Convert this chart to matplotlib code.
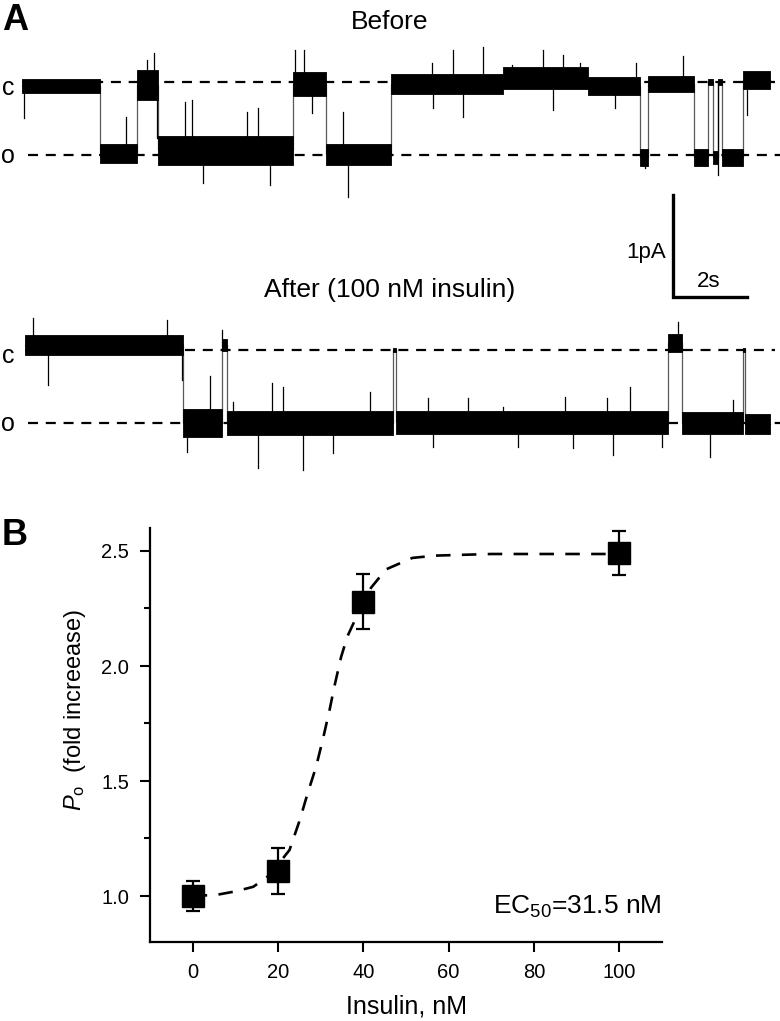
import matplotlib
matplotlib.use("Agg")
import matplotlib.pyplot as plt

plt.rcParams['font.family'] = ['Liberation Sans', 'DejaVu Sans']
plt.rcParams['mathtext.fontset'] = 'custom'
plt.rcParams['mathtext.rm'] = 'Liberation Sans'
plt.rcParams['mathtext.it'] = 'Liberation Sans:italic'

# ---- Panel A: single channel records (time in s, current in pA) ----
# segment edges, mean current and noise half-width of each segment
before_t = [0, 2.11, 3.11, 3.68, 7.32, 8.22, 9.97, 13.0, 15.3, 16.70, 16.92,
            18.16, 18.54, 18.68, 18.81, 18.92, 19.49, 20.22]
before_mean = [-0.04, -0.70, -0.03, -0.67, -0.02, -0.71, -0.02, 0.04, -0.04,
               -0.74, -0.02, -0.74, 0.0, -0.74, 0.0, -0.74, 0.02]
before_noise = [0.07, 0.09, 0.15, 0.14, 0.12, 0.10, 0.10, 0.11, 0.09,
                0.08, 0.08, 0.08, 0.03, 0.06, 0.03, 0.08, 0.09]
# big spikes: (time, peak current)
before_spike_t = [0.05, 2.81, 3.38, 3.57, 3.65, 4.41, 4.59, 4.89, 6.08, 6.38, 6.70,
                  7.38, 7.62, 7.84, 8.68, 8.81, 11.08, 11.1, 11.65, 11.92, 12.46, 13.24,
                  14.08, 14.35, 14.62, 15.08, 16.03, 16.6, 16.84, 17.86, 18.81, 19.59]
before_spike_i = [-0.35, -0.34, 0.22, 0.28, -0.55, -0.20, -0.18, -0.99, -0.29, -0.25, -1.01,
                  0.31, 0.31, -0.30, -0.29, -1.13, 0.19, -0.25, 0.31, -0.34, 0.34, 0.17,
                  0.31, -0.27, 0.26, 0.19, -0.25, 0.19, -0.84, 0.25, -0.91, -0.32]

after_t = [0.08, 4.35, 5.41, 5.54, 10.03, 10.11, 17.46, 17.84, 19.49, 19.54, 20.22]
after_mean = [0.05, -0.716, 0.05, -0.716, 0.0, -0.71, 0.07, -0.716, 0.0, -0.725]
after_noise = [0.10, 0.14, 0.06, 0.12, 0.02, 0.11, 0.09, 0.11, 0.02, 0.10]
after_spike_t = [0.30, 0.70, 3.92, 4.32, 4.46, 5.08, 5.41, 5.7, 6.38, 6.76, 7.05, 7.59,
                 8.4, 9.4, 10.97, 11.1, 12.05, 13.0, 13.4, 14.68, 14.9, 15.81, 15.97,
                 16.43, 17.3, 17.73, 18.59, 19.22]
after_spike_i = [0.31, -0.34, 0.29, -0.29, -1.0, -0.26, 0.20, -0.51, -1.16, -0.32, -0.36,
                 -1.18, -1.01, -0.41, -0.47, -0.95, -0.47, -0.56, -0.95, -0.46, -0.96,
                 -0.47, -1.03, -0.36, -0.95, 0.27, -1.05, -0.49]

open_level = -0.716      # pA, closed level = 0
after_offset = -2.627    # vertical shift of the lower record

# ---- Panel B: dose response ----
insulin = [0, 20, 40, 100]
po_fold = [1.0, 1.11, 2.28, 2.49]
po_sem = [0.065, 0.10, 0.12, 0.095]
fit_x = [0, 5.6, 10, 14.2, 18, 22.7, 25.1, 27.0, 28.9, 30.5, 32.1, 33.2, 34.8,
         36.3, 38.3, 41.8, 45.3, 51.5, 56.9, 70, 100]
fit_y = [1.0, 1.005, 1.02, 1.04, 1.09, 1.20, 1.33, 1.45, 1.56, 1.68, 1.81, 1.91, 2.04,
         2.13, 2.21, 2.34, 2.42, 2.47, 2.48, 2.487, 2.487]

W, H = 780, 1021
fig = plt.figure(figsize=(W / 100, H / 100), dpi=100)

# panel A axes: 37 px per s, 102 px per pA, trace starts at x=22 px, closed level at y=82 px
axA = fig.add_axes([0, 1 - 480 / H, 1, 480 / H])
axA.set_xlim(-22 / 37, (W - 22) / 37)
axA.set_ylim((82 - 480) / 102, 82 / 102)
axA.axis('off')


def draw_trace(ax, edges, means, noise, sp_t, sp_i, offset):
    for k in range(len(means)):
        m = means[k] + offset
        ax.fill_between([edges[k], edges[k + 1]], m - noise[k], m + noise[k],
                        color='black', lw=0.6, zorder=3)
    ax.plot(edges, [v + offset for v in means] + [means[-1] + offset],
            drawstyle='steps-post', color='0.35', lw=0.9, zorder=2)
    for t, v in zip(sp_t, sp_i):
        k = max(i for i in range(len(means)) if edges[i] <= t)
        ax.plot([t, t], [means[k] + offset, v + offset], color='black', lw=0.9, zorder=3)


for off, t0 in [(0, 0.0), (after_offset, 0.08)]:
    axA.hlines(off, t0, 20.35, colors='black', lw=1.6, linestyles=(0, (4.5, 3.5)), zorder=4)
    axA.hlines(off + open_level, 0.16, 20.5, colors='black', lw=1.6,
               linestyles=(0, (4.5, 3.5)), zorder=4)

draw_trace(axA, before_t, before_mean, before_noise, before_spike_t, before_spike_i, 0)
draw_trace(axA, after_t, after_mean, after_noise, after_spike_t, after_spike_i, after_offset)

# scale bar 1 pA / 2 s
sb_t, sb_i = 17.6, -2.108
axA.plot([sb_t, sb_t, sb_t + 2], [sb_i + 1, sb_i, sb_i], color='black', lw=2.4,
         solid_joinstyle='miter', clip_on=False)
axA.text(sb_t - 0.2, sb_i + 0.44, '1pA', ha='right', va='center', fontsize=16)
axA.text(sb_t + 0.95, sb_i + 0.15, '2s', ha='center', va='center', fontsize=16)

fig.text(390 / W, 1 - 22 / H, 'Before', ha='center', va='center', fontsize=19)
fig.text(390 / W, 1 - 290 / H, 'After (100 nM insulin)', ha='center', va='center', fontsize=19)
for lab, ypx in [('c', 88), ('o', 156), ('c', 356), ('o', 424)]:
    fig.text(8 / W, 1 - ypx / H, lab, ha='center', va='center', fontsize=18)
fig.text(15 / W, 1 - 21 / H, 'A', ha='center', va='center', fontsize=26, fontweight='bold')
fig.text(15 / W, 1 - 535 / H, 'B', ha='center', va='center', fontsize=26, fontweight='bold')

# panel B
axB = fig.add_axes([150 / W, 1 - 942 / H, 512 / W, 414 / H])
axB.plot(fit_x, fit_y, color='black', lw=1.9, ls=(0, (5.5, 4.3)), zorder=2)
axB.errorbar(insulin, po_fold, yerr=po_sem, fmt='s', ms=16, color='black',
             ecolor='black', elinewidth=1.6, capsize=5, capthick=1.6, zorder=3)
axB.set_xlim(-10, 110)
axB.set_ylim(0.8, 2.6)
axB.set_xticks([0, 20, 40, 60, 80, 100])
axB.set_yticks([1.0, 1.5, 2.0, 2.5])
axB.set_yticks([1.25, 1.75, 2.25], minor=True)
axB.spines['top'].set_visible(False)
axB.spines['right'].set_visible(False)
for s in ['left', 'bottom']:
    axB.spines[s].set_linewidth(1.6)
axB.tick_params(direction='out', length=7, width=1.5, labelsize=14.5, pad=8)
axB.tick_params(axis='y', which='minor', direction='out', length=4, width=1.5)
axB.set_xlabel('Insulin, nM', fontsize=18, labelpad=9)
axB.set_ylabel(r'$\mathit{P}_{\mathrm{o}}$  (fold increease)', fontsize=17)
axB.yaxis.set_label_coords(-0.122, 0.56)
axB.text(1.0, 0.085, r'EC$_{50}$=31.5 nM', transform=axB.transAxes, ha='right',
         va='center', fontsize=19)

plt.savefig('out.png', dpi=100)
